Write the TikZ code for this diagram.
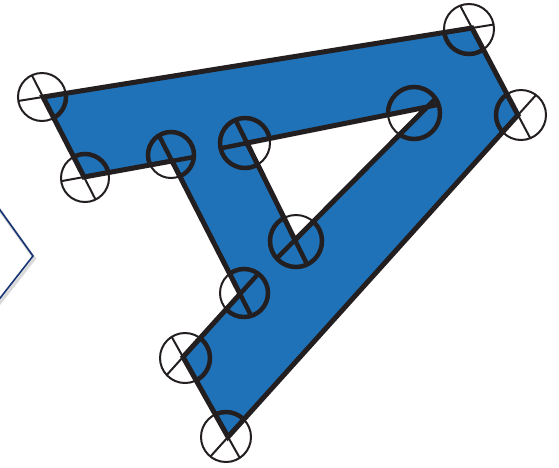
\documentclass[tikz,border=0pt]{standalone}
\usetikzlibrary{calc}
\definecolor{plate}{RGB}{31,114,184}
\definecolor{ink}{RGB}{35,31,32}
\definecolor{frame}{RGB}{22,52,115}
\tikzset{
  thinline/.style={draw=ink, line width=2pt},
  thickline/.style={draw=ink, line width=4.5pt},
  edgeline/.style={draw=ink, line width=5pt, line join=miter},
}
% #1 circle centre, #2 radius, #3 vertex, #4 previous vertex, #5 next vertex, #6 style
\newcommand\crossmark[6]{%
  \begin{scope}
    \clip (#1) circle[radius=#2];
    \draw[#6] (#4) -- ($(#3)!-90pt!(#4)$);
    \draw[#6] (#5) -- ($(#3)!-90pt!(#5)$);
  \end{scope}
  \draw[#6] (#1) circle[radius=#2];
}
\newcommand\allmarks[1]{%
  \crossmark{cA}{24}{A}{H}{B}{#1}
  \crossmark{cB}{24}{B}{A}{C}{#1}
  \crossmark{cC}{23}{C}{B}{D}{#1}
  \crossmark{cD}{24}{D}{C}{E}{#1}
  \crossmark{cE}{25}{E}{D}{F}{#1}
  \crossmark{cF}{25}{F}{E}{G}{#1}
  \crossmark{cG}{25}{G}{F}{H}{#1}
  \crossmark{cH}{25}{H}{G}{A}{#1}
  \crossmark{cI}{25}{I}{K}{J}{#1}
  \crossmark{cJ}{26}{J}{I}{K}{#1}
  \crossmark{cK}{26}{K}{J}{I}{#1}
}
\begin{document}
\begin{tikzpicture}[x=1pt, y=-1pt]
\useasboundingbox (0,0) rectangle (559,467);
% vertices of the plate
\coordinate (A) at (43,97);
\coordinate (B) at (84,177);
\coordinate (C) at (172,161);
\coordinate (D) at (240,294);
\coordinate (E) at (183,357);
\coordinate (F) at (228,437);
\coordinate (G) at (518,115);
\coordinate (H) at (472,28);
\coordinate (I) at (247,143);
\coordinate (J) at (427,107);
\coordinate (K) at (295,240);
% circle centres
\coordinate (cA) at (42,97);
\coordinate (cB) at (85,178);
\coordinate (cC) at (171,155);
\coordinate (cD) at (244,293);
\coordinate (cE) at (185,358);
\coordinate (cF) at (226,437);
\coordinate (cG) at (521,115);
\coordinate (cH) at (469,29);
\coordinate (cI) at (245,143);
\coordinate (cJ) at (414,113);
\coordinate (cK) at (296,241);

% partial diamond at the left edge
\coordinate (d1) at (-10,196);
\coordinate (d2) at (33,256);
\coordinate (d3) at (-10,311);
\draw[black!15, line width=3pt, line join=miter, transform canvas={shift={(1.5pt,-2.5pt)}}] (d1) -- (d2) -- (d3);
\draw[frame, line width=1.6pt, line join=miter] (d1) -- (d2) -- (d3);

% plate with its hole
\fill[plate, even odd rule] (A) -- (B) -- (C) -- (D) -- (E) -- (F) -- (G) -- (H) -- cycle
  (I) -- (J) -- (K) -- cycle;

% thin marks everywhere
\allmarks{thinline}
% thick marks inside the plate
\begin{scope}[even odd rule]
  \clip (A) -- (B) -- (C) -- (D) -- (E) -- (F) -- (G) -- (H) -- cycle
    (I) -- (J) -- (K) -- cycle;
  \allmarks{thickline}
\end{scope}

% plate outline
\draw[edgeline] (A) -- (B) -- (C) -- (D) -- (E) -- (F) -- (G) -- (H) -- cycle;
\draw[edgeline] (I) -- (J) -- (K) -- cycle;
\end{tikzpicture}
\end{document}
